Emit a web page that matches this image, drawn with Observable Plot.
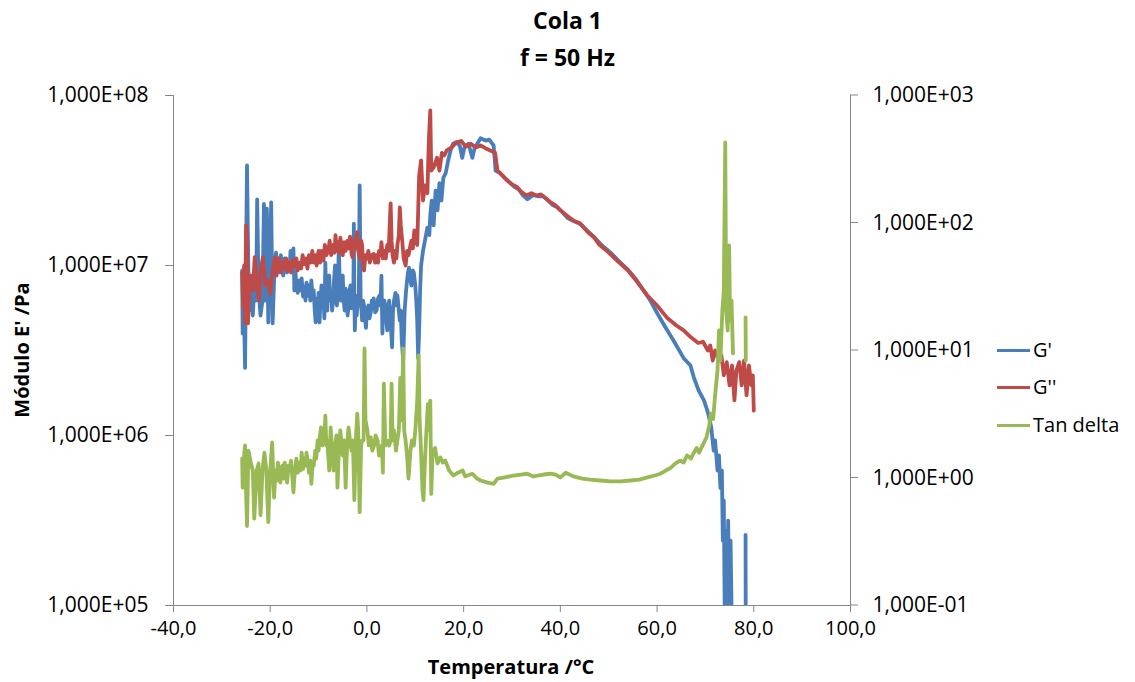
<!DOCTYPE html>
<html><head><meta charset="utf-8">
<script src="https://cdn.jsdelivr.net/npm/d3@7"></script>
<script src="https://cdn.jsdelivr.net/npm/@observablehq/plot@0.6"></script>
<style>
html,body{margin:0;padding:0;background:#fff;}
#wrap{position:relative;width:1135px;height:682px;font-family:"Open Sans",sans-serif;color:#000;overflow:hidden;}
.ov{position:absolute;white-space:nowrap;}
.title{left:0;width:1135px;text-align:center;font-weight:bold;font-size:23px;line-height:30px;}
.axlab{font-weight:bold;font-size:20px;line-height:30px;text-align:center;}
.leg{font-size:20px;line-height:30px;}
.legline{position:absolute;width:33px;height:0;border-top:3px solid;}
</style></head><body><div id="wrap"></div>
<script>
const chartTitle = "Cola 1";
const chartSubtitle = "f = 50 Hz";
const xLabel = "Temperatura /°C";
const yLabel = "Módulo E' /Pa";
const seriesNames = ["G'", "G''", "Tan delta"];
const seriesColors = ["#4a7ebb", "#be4b48", "#98b954"];
const xTicks = [-40, -20, 0, 20, 40, 60, 80, 100];
const yLeftTicks = [1e5, 1e6, 1e7, 1e8];
const yRightTicks = [0.1, 1, 10, 100, 1000];

// G' (Pa)
const tempG1 = [-25.8,-25.7,-25.6,-25.4,-25.2,-25.0,-24.8,-24.6,-24.4,-24.0,-23.6,-23.2,-22.9,-22.7,-22.4,-22.0,-21.6,-21.3,-21.0,-20.7,-20.4,-19.8,
 -19.5,-19.2,-19.0,-18.8,-18.6,-18.3,-18.0,-17.8,-17.5,-17.3,-17.0,-16.8,-16.5,-16.2,-16.0,-15.8,-15.5,-15.2,-15.0,-14.8,-14.6,-14.3,-14.0,-13.8,-13.5,-13.2,-13.0,-12.7,-12.5,-12.2,-12.0,-11.7,-11.5,-11.2,-11.0,-10.8,-10.6,-10.4,-10.2,-10.0,-9.8,-9.6,-9.4,-9.2,-9.0,-8.8,-8.6,-8.4,-8.2,-8.0,-7.8,-7.6,-7.4,-7.2,-7.0,-6.8,-6.6,-6.4,-6.2,-6.0,-5.8,-5.6,-5.4,-5.2,-5.0,-4.8,-4.6,-4.4,-4.2,-4.0,-3.8,-3.6,-3.4,-3.2,-3.0,-2.8,-2.7,-2.6,-2.5,-2.3,-2.1,-1.9,-1.7,-1.5,-1.3,-1.1,-1.0,-0.8,-0.6,-0.4,-0.2,0.0,0.3,0.5,0.8,1.0,1.2,1.4,1.7,2.0,2.3,2.6,2.8,3.0,3.2,3.4,3.6,3.9,4.2,4.4,4.6,4.8,5.0,5.2,5.4,5.6,5.9,6.1,6.3,6.5,6.8,7.0,7.2,7.5,7.8,8.1,8.3,8.5,8.7,9.0,9.2,9.5,9.7,10.0,10.2,10.4,10.6,10.8,11.0,11.2,
 11.6,12.0,12.5,12.9,13.1,13.4,13.8,14.2,14.6,15.0,15.4,15.8,16.3,16.8,17.3,17.8,18.5,19.2,19.7,20.2,21.0,21.8,22.3,23.0,23.5,24.5,25.3,26.2,26.6,27.5,28.5,29.7,30.5,31.4,32.3,33.2,34.4,35.5,36.5,37.5,38.5,39.4,40.5,41.5,42.5,44.2,45.5,46.9,48.5,50.4,52.0,53.9,55.5,57.2,58.6,60.1,61.5,63.4,65.5,66.9,67.6,68.6,69.7,70.5,71.2,71.7,72.0,72.5,72.8,73.1,73.4,73.6,73.8,74.0,74.2,74.5,74.7,75.0,75.2,75.5,75.8,78.2,78.3,78.35,78.4];
const gPrime = [9.35e6,3.98e6,7.13e6,4.75e6,2.5e6,1.07e7,3.88e7,1.40e7,5.43e6,7.13e6,5.08e6,8.16e6,6.22e6,2.45e7,7.13e6,5.08e6,6.22e6,2.3e7,6.22e6,2.16e7,4.63e6,2.35e7,
 4.57e6,8.16e6,1.04e7,1.19e7,9.6e6,1.10e7,9.1e6,1.15e7,9.8e6,8.73e6,1.10e7,1.04e7,9.1e6,1.04e7,9.35e6,1.22e7,9.6e6,1.26e7,7.13e6,9.35e6,7.63e6,6.9e6,8.16e6,7.13e6,8.4e6,6.57e6,7.5e6,6.22e6,7.94e6,6.66e6,7.63e6,6.22e6,8.16e6,6.4e6,7.13e6,5.43e6,4.63e6,6.4e6,5.08e6,6.9e6,4.63e6,6.22e6,7.63e6,5.82e6,6.66e6,4.88e6,1.04e7,6.22e6,5.43e6,8.16e6,8.73e6,6.22e6,7.13e6,5.43e6,6.22e6,8.16e6,1.0e7,6.22e6,5.82e6,7.63e6,1.32e7,7.13e6,6.22e6,7.94e6,8.73e6,6.22e6,5.43e6,7.3e6,6.66e6,5.08e6,5.82e6,7.13e6,7.63e6,5.6e6,6.22e6,7.13e6,1.76e7,6.22e6,4.15e6,6.22e6,5.08e6,6.66e6,5.82e6,2.96e7,6.22e6,5.3e6,4.75e6,6.22e6,5.82e6,4.88e6,4.3e6,5.43e6,5.82e6,4.88e6,5.3e6,6.22e6,5.6e6,6.4e6,5.3e6,5.43e6,6.4e6,6.66e6,5.82e6,8.73e6,3.98e6,5.82e6,6.22e6,5.3e6,4.15e6,5.82e6,6.22e6,5.08e6,4.15e6,3.3e6,5.43e6,6.22e6,6.9e6,5.82e6,6.66e6,5.82e6,4.75e6,5.43e6,3.62e6,2.76e6,5.43e6,7.13e6,8.16e6,9.1e6,9.7e6,8.16e6,7.63e6,9.35e6,9.1e6,7.63e6,6.22e6,4.75e6,2.85e6,4.15e6,7.13e6,1.0e7,
 1.22e7,1.40e7,1.67e7,1.51e7,1.97e7,2.41e7,1.72e7,2.76e7,2.11e7,3.05e7,2.41e7,3.28e7,3.5e7,4.15e7,4.75e7,5.2e7,5.3e7,5.08e7,4.3e7,5.0e7,5.2e7,4.3e7,4.95e7,5.3e7,5.6e7,5.43e7,5.5e7,5.08e7,3.62e7,3.5e7,3.28e7,3.05e7,2.9e7,2.8e7,2.58e7,2.45e7,2.6e7,2.55e7,2.55e7,2.41e7,2.26e7,2.2e7,2.05e7,1.9e7,1.84e7,1.75e7,1.61e7,1.48e7,1.32e7,1.19e7,1.07e7,9.5e6,8.4e6,7.13e6,6.22e6,5.2e6,4.44e6,3.62e6,2.85e6,2.58e6,2.2e6,1.84e6,1.61e6,1.37e6,1.12e6,8.16e5,9.35e5,6.22e5,7.63e5,4.9e5,6.22e5,2.41e5,4.15e5,8.2e4,2.76e5,6.2e4,3.16e5,4.75e4,2.41e5,6.2e4,null,null,2.6e5,4.75e4,null];

// G'' (Pa)
const tempG2 = [-25.8,-25.6,-25.4,-25.2,-25.0,-24.8,-24.6,-24.3,-24.0,-23.6,-23.2,-22.8,-22.3,-22.0,-21.5,-21.0,-20.5,-20.0,
 -19.5,-19.2,-19.0,-18.7,-18.5,-18.2,-18.0,-17.7,-17.4,-17.0,-16.7,-16.4,-16.0,-15.7,-15.4,-15.0,-14.6,-14.3,-14.0,-13.6,-13.3,-13.0,-12.6,-12.3,-12.0,-11.6,-11.3,-11.0,-10.7,-10.4,-10.0,-9.7,-9.4,-9.0,-8.7,-8.4,-8.0,-7.7,-7.4,-7.0,-6.7,-6.5,-6.2,-6.0,-5.7,-5.5,-5.2,-5.0,-4.7,-4.4,-4.0,-3.7,-3.5,-3.2,-3.0,-2.7,-2.4,-2.0,-1.8,-1.5,-1.2,-1.0,-0.8,-0.6,-0.3,0.0,0.3,0.6,1.0,1.4,1.7,2.0,2.3,2.5,2.8,3.0,3.3,3.6,3.9,4.2,4.5,4.9,5.1,5.3,5.6,5.8,6.1,6.3,6.6,6.8,7.0,7.3,7.6,8.0,8.3,8.6,9.0,9.2,9.5,9.8,10.1,10.4,10.6,10.8,
 11.2,11.6,12.0,12.5,12.8,13.1,13.3,13.8,14.5,15.0,15.5,16.0,16.5,17.5,18.5,19.5,20.5,21.5,22.5,23.5,24.5,25.5,26.5,27.0,28.0,29.0,30.0,31.0,32.0,33.0,34.0,35.0,36.0,37.0,38.0,39.0,40.0,41.0,42.0,43.0,44.0,45.0,46.0,47.0,48.0,49.0,50.0,52.0,54.0,56.0,58.0,60.0,62.0,64.0,65.5,67.0,68.5,69.5,70.5,71.0,71.5,72.0,72.8,73.3,73.8,74.4,75.0,75.5,76.0,76.4,77.0,77.5,78.0,78.5,79.0,79.5,79.8,80.0];
const gDouble = [9.1e6,5.7e6,1.0e7,4.57e6,1.72e7,1.40e7,4.57e6,7.13e6,8.73e6,7.13e6,1.12e7,7.63e6,6.22e6,9.35e6,1.12e7,7.63e6,8.16e6,6.8e6,
 9.35e6,1.04e7,1.12e7,8.73e6,9.6e6,1.10e7,1.04e7,9.1e6,1.04e7,9.6e6,1.10e7,9.35e6,1.04e7,9.1e6,1.07e7,9.9e6,1.10e7,9.35e6,1.04e7,9.6e6,1.15e7,1.02e7,1.10e7,9.6e6,1.15e7,1.04e7,1.22e7,1.04e7,1.15e7,1.0e7,1.22e7,1.04e7,1.22e7,1.07e7,1.32e7,1.15e7,1.22e7,1.40e7,1.15e7,1.32e7,1.19e7,1.51e7,1.22e7,1.37e7,1.19e7,1.46e7,1.22e7,1.15e7,1.37e7,1.22e7,1.40e7,1.26e7,1.48e7,1.19e7,1.12e7,1.40e7,1.26e7,1.57e7,1.22e7,1.10e7,1.40e7,1.32e7,1.04e7,9.35e6,1.15e7,1.10e7,1.22e7,1.04e7,1.15e7,1.17e7,1.04e7,1.15e7,1.04e7,1.22e7,1.15e7,1.37e7,1.10e7,1.22e7,1.10e7,1.32e7,1.22e7,2.32e7,1.40e7,1.15e7,1.04e7,1.22e7,1.10e7,1.32e7,1.51e7,2.2e7,1.72e7,1.40e7,1.10e7,1.0e7,1.22e7,1.15e7,1.32e7,1.40e7,1.26e7,1.61e7,1.40e7,1.32e7,2.11e7,3.39e7,
 4.15e7,2.41e7,2.96e7,2.66e7,5.43e7,8.16e7,3.62e7,3.78e7,4.3e7,3.62e7,4.6e7,4.44e7,4.75e7,4.95e7,5.3e7,5.4e7,5.0e7,5.2e7,4.95e7,5.08e7,4.9e7,4.75e7,4.6e7,3.62e7,3.39e7,3.16e7,3.0e7,2.9e7,2.7e7,2.58e7,2.66e7,2.58e7,2.62e7,2.48e7,2.35e7,2.26e7,2.11e7,2.0e7,1.9e7,1.82e7,1.78e7,1.65e7,1.54e7,1.46e7,1.33e7,1.26e7,1.19e7,1.05e7,9.35e6,7.94e6,6.66e6,5.82e6,4.95e6,4.44e6,4.15e6,3.78e6,3.5e6,3.56e6,3.16e6,3.39e6,2.76e6,3.16e6,2.76e6,2.96e6,2.26e6,2.7e6,1.97e6,2.58e6,1.61e6,2.41e6,2.7e6,1.97e6,2.76e6,1.72e6,2.58e6,1.97e6,2.26e6,1.40e6];

// Tan delta (right axis)
const tempTan = [-25.8,-25.7,-25.5,-25.2,-25.0,-24.8,-24.5,-24.0,-23.6,-23.3,-22.8,-22.4,-22.0,-21.6,-21.2,-20.8,-20.4,-20.0,
 -19.6,-19.2,-18.9,-18.7,-18.4,-18.2,-17.9,-17.5,-17.2,-17.0,-16.7,-16.5,-16.2,-16.0,-15.7,-15.4,-15.2,-14.9,-14.6,-14.3,-14.0,-13.7,-13.5,-13.2,-13.0,-12.7,-12.5,-12.2,-12.0,-11.7,-11.5,-11.2,-11.0,-10.7,-10.5,-10.2,-10.0,-9.7,-9.5,-9.2,-9.0,-8.8,-8.6,-8.4,-8.2,-8.0,-7.8,-7.5,-7.2,-6.9,-6.6,-6.3,-6.1,-5.8,-5.5,-5.2,-5.0,-4.7,-4.4,-4.1,-3.8,-3.5,-3.2,-2.9,-2.6,-2.3,-2.0,-1.8,-1.5,-1.2,-1.0,-0.7,-0.5,-0.3,0.1,0.4,0.8,1.1,1.5,1.8,2.2,2.5,2.8,3.1,3.3,3.5,3.8,4.2,4.6,4.9,5.1,5.3,5.6,6.0,6.3,6.6,6.9,7.2,7.5,7.7,8.0,8.3,8.6,9.0,9.3,9.7,10.0,10.4,10.7,10.9,11.1,11.5,11.7,12.0,12.2,12.6,12.9,13.1,13.3,13.6,
 14.1,14.6,15.2,15.7,16.2,17.0,17.9,18.8,19.8,20.3,20.8,21.8,22.8,23.5,25.0,26.2,27.0,28.5,30.3,31.8,33.2,34.3,35.3,36.5,38.0,39.0,40.0,41.1,42.7,44.5,46.2,48.3,50.4,52.5,54.5,56.3,58.0,59.5,60.7,61.8,62.8,63.8,64.8,65.5,66.2,67.0,67.5,68.2,68.7,69.6,70.2,70.8,71.1,71.6,72.0,72.5,72.8,73.1,73.5,73.8,74.1,74.3,74.6,74.9,75.1,75.4,75.7,76.0,78.2,78.3,78.35,78.4];
const tanDelta = [1.42,0.84,1.37,1.80,0.80,0.42,1.64,1.32,1.145,0.48,1.145,1.30,0.51,1.145,1.58,1.145,0.45,1.145,
 1.9,0.70,1.145,0.956,1.32,1.145,0.92,1.25,0.99,1.32,1.10,0.92,1.25,1.145,1.37,0.99,0.77,1.145,1.42,1.10,1.32,1.145,1.58,1.18,1.42,1.25,1.58,1.32,1.10,1.37,0.90,1.32,1.25,1.64,1.42,1.97,1.64,2.16,2.49,1.80,2.36,2.0,3.09,1.80,1.97,1.50,1.145,2.49,1.64,1.145,1.80,2.16,0.84,1.64,2.36,1.80,1.50,1.97,0.84,1.80,2.49,1.97,1.64,1.97,0.67,1.97,3.2,2.36,0.54,1.80,1.97,1.97,10.4,2.83,2.36,1.80,2.08,1.64,1.80,2.16,1.97,1.50,1.64,1.80,1.10,5.5,1.80,1.97,1.80,1.97,5.5,1.97,2.36,1.64,1.97,2.36,6.1,2.83,10.4,2.36,1.97,1.50,0.99,1.64,1.97,1.80,2.36,4.05,9.14,2.83,1.97,0.80,0.67,1.37,1.97,3.8,2.36,4.05,0.75,1.64,
 1.72,1.30,1.45,1.32,1.37,1.145,1.046,1.10,1.145,1.03,1.046,1.08,0.99,0.956,0.92,0.90,0.99,1.01,1.046,1.065,1.08,1.03,1.046,1.065,1.08,1.065,1.01,1.10,1.03,0.99,0.97,0.956,0.94,0.94,0.956,0.97,1.01,1.046,1.08,1.145,1.2,1.30,1.37,1.32,1.50,1.42,1.55,1.72,1.58,1.86,2.08,2.58,3.2,2.9,4.44,6.97,14.35,8.35,20.6,29.6,428,20.6,14.35,66.6,17.19,24.7,9.5,null,null,18.2,8.35,null];

// map the right (tan delta) axis onto the left scale: 0.1..1000 <-> 1e5..1e8
const tanToLeft = t => (t == null ? null : 1e5 * Math.pow(t / 0.1, 0.75));
const fmtExp = v => {
  const k = Math.round(Math.log10(v)) || 0;
  return "1,000E" + (k < 0 ? "-" : "+") + String(Math.abs(k)).padStart(2, "0");
};
const fmtX = d => (d === 0 ? "0,0" : d.toFixed(1).replace(".", ","));

const s1 = tempG1.map((t, i) => ({t, v: gPrime[i]}));
const s2 = tempG2.map((t, i) => ({t, v: gDouble[i]}));
const s3 = tempTan.map((t, i) => ({t, v: tanToLeft(tanDelta[i])}));
const rightTickData = yRightTicks.map(t => ({t, v: tanToLeft(t), x: 100}));

const axisGray = "#868686";
const lw = 3.8;
const chart = Plot.plot({
  width: 1135, height: 682,
  marginTop: 95, marginBottom: 77, marginLeft: 173, marginRight: 285,
  style: {fontFamily: "'Open Sans', sans-serif", fontSize: "20px", color: "#000", background: "transparent", overflow: "visible"},
  x: {type: "linear", domain: [-40, 100]},
  y: {type: "log", domain: [1e5, 1e8]},
  marks: [
    Plot.ruleX([-40, 100], {stroke: axisGray, strokeWidth: 1}),
    Plot.ruleY([1e5], {stroke: axisGray, strokeWidth: 1}),
    Plot.axisX({ticks: xTicks, tickFormat: fmtX, tickSize: 7, tickPadding: 8, stroke: axisGray, fill: "#000", label: null}),
    Plot.axisY({anchor: "left", ticks: yLeftTicks, tickFormat: fmtExp, tickSize: 8, tickPadding: 17, stroke: axisGray, fill: "#000", fontSize: 21, label: null}),
    Plot.text(rightTickData, {x: "x", y: "v", text: d => fmtExp(d.t), textAnchor: "start", dx: 22, fontSize: 21, fill: "#000"}),
    Plot.line(s1, {x: "t", y: "v", stroke: seriesColors[0], strokeWidth: lw, strokeLinejoin: "round", clip: true}),
    Plot.line(s2, {x: "t", y: "v", stroke: seriesColors[1], strokeWidth: lw, strokeLinejoin: "round", clip: true}),
    Plot.line(s3, {x: "t", y: "v", stroke: seriesColors[2], strokeWidth: lw, strokeLinejoin: "round", clip: true})
  ]
});

const wrap = document.getElementById("wrap");
wrap.appendChild(chart);

// right-axis tick marks: short outward ticks beside the right axis line, placed via the chart's scales
const yScale = chart.scale("y");
const xScale = chart.scale("x");
const xr = xScale.apply(100);
d3.select(chart).append("g").attr("stroke", axisGray).selectAll("line").data(rightTickData).join("line")
  .attr("x1", xr).attr("x2", xr + 8)
  .attr("y1", d => yScale.apply(d.v)).attr("y2", d => yScale.apply(d.v));

function ov(cls, text, css) {
  const d = document.createElement("div");
  d.className = "ov " + cls;
  d.textContent = text;
  Object.assign(d.style, css);
  wrap.appendChild(d);
  return d;
}
ov("title", chartTitle, {top: "5px"});
ov("title", chartSubtitle, {top: "42px"});
ov("axlab", xLabel, {left: "311px", width: "400px", top: "652px"});
ov("axlab", yLabel, {left: "-128px", width: "300px", top: "335px", transform: "rotate(-90deg)"});
const legY = [350, 387, 425];
seriesNames.forEach((n, i) => {
  const l = document.createElement("div");
  l.className = "legline";
  l.style.left = "997px";
  l.style.top = (legY[i] - 1.5) + "px";
  l.style.borderTopColor = seriesColors[i];
  wrap.appendChild(l);
  ov("leg", n, {left: "1033px", top: (legY[i] - 15) + "px"});
});
</script></body></html>
